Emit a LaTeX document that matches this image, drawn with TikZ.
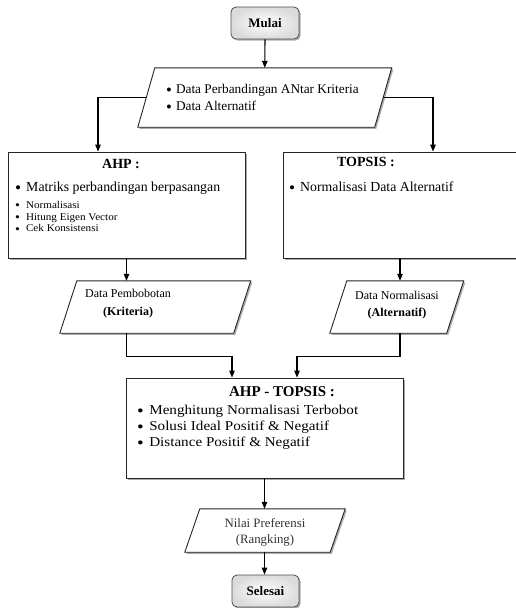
\documentclass[tikz,border=0pt]{standalone}
\usepackage{fontspec}
\setmainfont{Liberation Serif}
\usetikzlibrary{arrows.meta,shadows,calc}
\newcommand\mybul{\raisebox{-0.3ex}{\scalebox{1.25}{\textbullet}}}
\begin{document}
\begin{tikzpicture}[x=1pt,y=-1pt,
  shd/.style={drop shadow={shadow xshift=1.6pt,shadow yshift=-1.6pt,fill=gray!65,opacity=1}},
  box/.style={draw=black!85,line width=0.9pt,fill=white,shd,inner sep=0pt},
  term/.style={draw=black!70,line width=0.8pt,rounded corners=5pt,inner color=white,outer color=gray!28,shd,inner sep=0pt},
  frame/.style={inner sep=0pt},
  para/.style={draw=black!85,line width=0.9pt,fill=white,shd},
  arr/.style={-{Triangle[length=7pt,width=5.5pt]},line width=1.1pt},
  txt/.style={inner sep=0pt,anchor=west,text height=0.68em,text depth=0.2em},
  ctxt/.style={inner sep=0pt,text height=0.68em,text depth=0.2em}
]
\useasboundingbox (0,0) rectangle (515,608);

% shape nodes
\node[term,minimum width=68pt,minimum height=32pt] (mulai) at (265,23) {\fontsize{13}{15}\selectfont\bfseries Mulai};
\node[frame,minimum width=236.5pt,minimum height=59pt] (p1) at (264.75,97.5) {};
\node[box,minimum width=237pt,minimum height=106pt] (ahp) at (126.5,205) {};
\node[box,minimum width=237pt,minimum height=106pt] (topsis) at (401.5,205) {};
\node[frame,minimum width=173.5pt,minimum height=52pt] (p2) at (155.25,307) {};
\node[frame,minimum width=116.5pt,minimum height=52pt] (p3) at (396.75,307) {};
\node[box,minimum width=277pt,minimum height=100pt] (ahpt) at (264.5,428) {};
\node[frame,minimum width=145pt,minimum height=43pt] (p4) at (265,530.5) {};
\node[term,minimum width=67pt,minimum height=32pt] (selesai) at (265.5,591) {\fontsize{13}{15}\selectfont\bfseries Selesai};

% parallelograms
\foreach \n/\s in {p1/8.5,p2/8.5,p3/8.5,p4/7.5}{
  \draw[para] ([xshift=\s pt]\n.north west) -- ([xshift=\s pt]\n.north east)
    -- ([xshift=-\s pt]\n.south east) -- ([xshift=-\s pt]\n.south west) -- cycle;
}

% texts
\begin{scope}[font=\fontsize{13.3}{15}\selectfont]
\node[txt] (t1a) at (166,91) {\mybul\hspace{4pt}Data Perbandingan ANtar Kriteria};
\node[txt] (t1b) at (166,108) {\mybul\hspace{4pt}Data Alternatif};
\end{scope}

\node[ctxt,font=\fontsize{14}{16}\selectfont\bfseries] (ahpT) at (121,166) {AHP :};
\node[txt,font=\fontsize{13.8}{15}\selectfont] (a1) at (15,189) {\mybul\hspace{5pt}Matriks perbandingan berpasangan};
\begin{scope}[font=\fontsize{10.3}{12}\selectfont\addfontfeature{FakeStretch=1.08}]
\node[txt] (a2) at (15,206) {\mybul\hspace{6pt}Normalisasi};
\node[txt] (a3) at (15,217.6) {\mybul\hspace{6pt}Hitung Eigen Vector};
\node[txt] (a4) at (15,229.2) {\mybul\hspace{6pt}Cek Konsistensi};
\end{scope}

\node[ctxt,font=\fontsize{14}{16}\selectfont\bfseries] (topT) at (366,164) {TOPSIS :};
\node[txt,font=\fontsize{13.8}{15}\selectfont] (b1) at (289,189) {\mybul\hspace{5pt}Normalisasi Data Alternatif};

\node[ctxt,font=\fontsize{12}{14}\selectfont] (p2a) at (128,295) {Data Pembobotan};
\node[ctxt,font=\fontsize{12}{14}\selectfont\bfseries] (p2b) at (128,313) {(Kriteria)};
\node[ctxt,font=\fontsize{12}{14}\selectfont] (p3a) at (397,297) {Data Normalisasi};
\node[ctxt,font=\fontsize{12}{14}\selectfont\bfseries] (p3b) at (397,314) {(Alternatif)};

\node[ctxt,font=\fontsize{15}{17}\selectfont\bfseries] (ahptT) at (282,394) {AHP - TOPSIS :};
\begin{scope}[font=\fontsize{13.5}{17}\selectfont\addfontfeature{FakeStretch=1.12}]
\node[txt] (c1) at (137,412.5) {\mybul\hspace{5.5pt}Menghitung Normalisasi Terbobot};
\node[txt] (c2) at (137,428.3) {\mybul\hspace{5.5pt}Solusi Ideal Positif \& Negatif};
\node[txt] (c3) at (137,444.1) {\mybul\hspace{5.5pt}Distance Positif \& Negatif};
\end{scope}

\node[ctxt,font=\fontsize{12.8}{14}\selectfont,text=black!80] (p4a) at (265,525) {Nilai Preferensi};
\node[ctxt,font=\fontsize{12.8}{14}\selectfont,text=black!80] (p4b) at (265,541) {(Rangking)};

% connectors
\draw[arr] (mulai.south) -- (p1.north);
\draw[arr] (p1.west) -| ([xshift=-28.5pt]ahp.north);
\draw[arr] (p1.east) -| ([xshift=31.5pt]topsis.north);
\draw[arr] (ahp.south) -- (ahp.south |- p2.north);
\draw[arr] ([xshift=-1.5pt]topsis.south) -- ([xshift=-1.5pt]topsis.south |- p3.north);
\draw[arr] (ahp.south |- p2.south) -- ++(0,23) -| ([xshift=-32.5pt]ahpt.north);
\draw[arr] ([xshift=-1.5pt]topsis.south |- p3.south) -- ++(0,23) -| ([xshift=32.5pt]ahpt.north);
\draw[arr] (ahpt.south) -- (ahpt.south |- p4.north);
\draw[arr] (p4.south -| ahpt.south) -- (selesai.north -| ahpt.south);
\end{tikzpicture}
\end{document}
